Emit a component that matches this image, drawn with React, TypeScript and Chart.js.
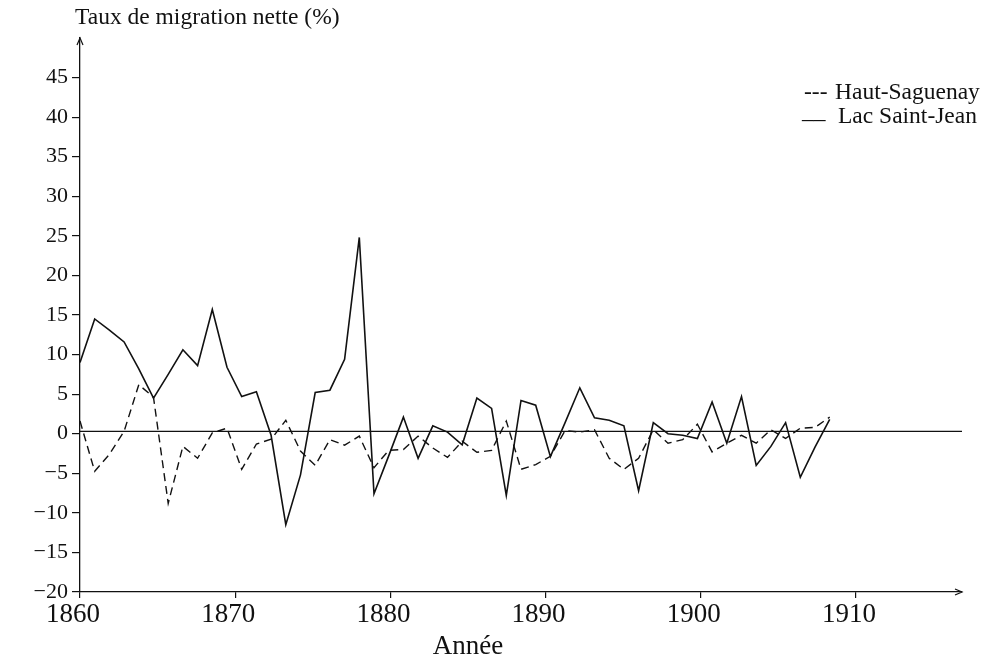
import React, { useEffect, useRef } from "react";
import { Chart, registerables } from "chart.js";

Chart.register(...registerables);

// ---- Data ----
const years = [
  1860, 1861, 1862, 1863, 1864, 1865, 1866, 1867, 1868, 1869,
  1870, 1871, 1872, 1873, 1874, 1875, 1876, 1877, 1878, 1879,
  1880, 1881, 1882, 1883, 1884, 1885, 1886, 1887, 1888, 1889,
  1890, 1891, 1892, 1893, 1894, 1895, 1896, 1897, 1898, 1899,
  1900, 1901, 1902, 1903, 1904, 1905, 1906, 1907, 1908, 1909,
  1910, 1911,
];

const hautSaguenay = [
  1.6, -4.75, -2.6, 0.3, 6.2, 4.6, -8.8, -1.6, -3.1, 0.1,
  0.7, -4.5, -1.3, -0.7, 1.7, -2.2, -4.0, -0.75, -1.45, -0.3,
  -4.3, -2.1, -2.0, -0.3, -1.8, -3.0, -0.95, -2.35, -2.1, 1.6,
  -4.5, -3.9, -2.85, 0.4, 0.2, 0.5, -3.1, -4.5, -3.1, 0.5,
  -1.2, -0.75, 1.2, -2.3, -1.2, -0.2, -1.2, 0.5, -0.6, 0.7,
  0.8, 2.1,
];

const lacSaintJean = [
  9.0, 14.5, 13.1, 11.6, 8.2, 4.5, 7.5, 10.6, 8.6, 15.7,
  8.4, 4.7, 5.3, -0.2, -11.5, -5.2, 5.2, 5.5, 9.4, 24.8,
  -7.6, -2.8, 2.1, -3.1, 1.0, 0.2, -1.4, 4.5, 3.2, -7.8,
  4.2, 3.6, -2.9, 1.4, 5.8, 2.0, 1.7, 1.0, -7.2, 1.4,
  0.0, -0.2, -0.6, 4.0, -1.2, 4.7, -4.0, -1.6, 1.4, -5.5,
  -1.7, 1.8,
];

const yTickValues = [-20, -15, -10, -5, 0, 5, 10, 15, 20, 25, 30, 35, 40, 45];
const xTickYears = [1860, 1870, 1880, 1890, 1900, 1910];

const seriesNames = ["Haut-Saguenay", "Lac Saint-Jean"];
const legendSymbols = ["---", "__"];
const yTitle = "Taux de migration nette (%)";
const xTitle = "Année";

const Y_MIN = -20;
const Y_MAX = 50;
// data axis (as plotted in the figure)
const X_MIN = 1860;
const X_MAX = 1920;
// printed tick axis of the figure (its decade ticks are spaced a little wider)
const TICK_AXIS_MIN = 1860;
const TICK_AXIS_MAX = 1916.83;
const X_TITLE_AT = 1885;
const REFERENCE_LINE = 0.3;

const FONT = "'Liberation Serif', 'DejaVu Serif', 'Times New Roman', serif";
const INK = "#111";

const decorPlugin = {
  id: "decor",
  beforeDatasetsDraw(chart: any) {
    const { ctx, chartArea, scales } = chart;
    const y = scales.y.getPixelForValue(REFERENCE_LINE);
    ctx.save();
    ctx.strokeStyle = INK;
    ctx.lineWidth = 1.4;
    ctx.beginPath();
    ctx.moveTo(chartArea.left, y);
    ctx.lineTo(chartArea.right, y);
    ctx.stroke();
    ctx.restore();
  },
  afterDraw(chart: any) {
    const { ctx, chartArea, scales } = chart;
    ctx.save();
    ctx.strokeStyle = INK;
    ctx.fillStyle = INK;
    ctx.lineWidth = 1.2;
    const L = chartArea.left;
    const T = chartArea.top;
    ctx.beginPath();
    ctx.moveTo(L - 3, T + 7);
    ctx.lineTo(L, T);
    ctx.lineTo(L + 3, T + 7);
    ctx.stroke();
    const R = chartArea.right;
    const B = chartArea.bottom;
    ctx.beginPath();
    ctx.moveTo(R - 7, B - 3);
    ctx.lineTo(R, B);
    ctx.lineTo(R - 7, B + 3);
    ctx.stroke();

    ctx.textBaseline = "middle";
    ctx.font = `23.5px ${FONT}`;
    ctx.textAlign = "left";
    ctx.fillText(yTitle, 75, 18);

    ctx.font = `27px ${FONT}`;
    ctx.textAlign = "center";
    ctx.fillText(xTitle, scales.xTicks.getPixelForValue(X_TITLE_AT), 647);

    ctx.font = `23.5px ${FONT}`;
    ctx.textAlign = "left";
    ctx.fillText(legendSymbols[0], 804, 93);
    ctx.fillText(seriesNames[0], 835, 93);
    ctx.fillText(legendSymbols[1], 802, 112);
    ctx.fillText(seriesNames[1], 838, 117);
    ctx.restore();
  },
};

export default function App() {
  const canvasRef = useRef<HTMLCanvasElement | null>(null);

  useEffect(() => {
    if (!canvasRef.current) return;
    const chart = new Chart(canvasRef.current, {
      type: "line",
      data: {
        datasets: [
          {
            label: seriesNames[0],
            data: years.map((yr, i) => ({ x: yr, y: hautSaguenay[i] })),
            borderColor: INK,
            borderWidth: 1.4,
            borderDash: [8, 5],
            pointRadius: 0,
            tension: 0,
            fill: false,
            xAxisID: "x",
          },
          {
            label: seriesNames[1],
            data: years.map((yr, i) => ({ x: yr, y: lacSaintJean[i] })),
            borderColor: INK,
            borderWidth: 1.6,
            pointRadius: 0,
            tension: 0,
            fill: false,
            xAxisID: "x",
          },
        ],
      },
      options: {
        animation: false,
        responsive: false,
        maintainAspectRatio: false,
        layout: { padding: { left: 0, right: 22, top: 38, bottom: 0 } },
        plugins: {
          legend: { display: false },
          tooltip: { enabled: false },
        },
        scales: {
          x: {
            type: "linear",
            display: false,
            min: X_MIN,
            max: X_MAX,
          },
          xTicks: {
            type: "linear",
            position: "bottom",
            min: TICK_AXIS_MIN,
            max: TICK_AXIS_MAX,
            afterBuildTicks: (scale: any) => {
              scale.ticks = xTickYears.map((v) => ({ value: v }));
            },
            afterFit: (scale: any) => {
              scale.height = 67;
            },
            ticks: {
              color: INK,
              font: { family: FONT, size: 27 },
              padding: 1,
              labelOffset: -7,
              maxRotation: 0,
              autoSkip: false,
              callback: (v: any) => String(v),
            },
            grid: {
              drawOnChartArea: false,
              drawTicks: true,
              tickLength: 6,
              color: INK,
              lineWidth: 1.2,
            },
            border: { display: true, color: INK, width: 1.3 },
          },
          y: {
            type: "linear",
            min: Y_MIN,
            max: Y_MAX,
            afterBuildTicks: (scale: any) => {
              scale.ticks = yTickValues.map((v) => ({ value: v }));
            },
            afterFit: (scale: any) => {
              scale.width = 80;
            },
            ticks: {
              color: INK,
              font: { family: FONT, size: 22 },
              padding: 4,
              autoSkip: false,
              callback: (v: any) => (v < 0 ? "\u2212" + Math.abs(v) : String(v)),
            },
            grid: {
              drawOnChartArea: false,
              drawTicks: true,
              tickLength: 8,
              color: INK,
              lineWidth: 1.2,
            },
            border: { display: true, color: INK, width: 1.3 },
          },
        },
      },
      plugins: [decorPlugin],
    });
    return () => chart.destroy();
  }, []);

  return (
    <div style={{ position: "fixed", left: 0, top: 0, width: 984, height: 659, background: "#fff" }}>
      <canvas ref={canvasRef} width={984} height={659} style={{ display: "block" }} />
    </div>
  );
}
